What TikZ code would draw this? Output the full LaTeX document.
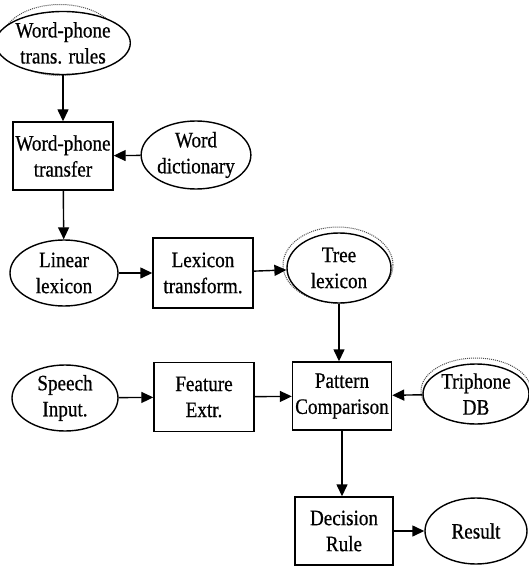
\documentclass[tikz,border=0pt]{standalone}
\usepackage{fontspec}
\setmainfont[FakeStretch=0.87,FakeBold=0.6]{Liberation Serif}
\usetikzlibrary{shapes.geometric,arrows.meta}
\begin{document}
\begin{tikzpicture}[x=1pt,y=-1pt,
  every node/.style={font=\fontsize{22}{26}\selectfont, align=center, inner sep=0pt},
  ell/.style={ellipse, draw, line width=1.4pt},
  boxnode/.style={rectangle, draw, line width=1.4pt},
  outerring/.style={ellipse, draw=black!70, densely dotted, line width=1pt},
  conn/.style={line width=1.4pt, -{Triangle[length=12pt,width=11pt]}}]
\path[use as bounding box] (0,0) rectangle (528,567);
% outer dotted rings for database ellipses
\node[outerring, minimum width=116pt, minimum height=71pt] (r1o) at (60,40) {};
\node[outerring, minimum width=110pt, minimum height=76pt] (tlo) at (338,265) {};
\node[outerring, minimum width=110pt, minimum height=66pt] (tpo) at (476,391) {};
% nodes
\node[ell, minimum width=108pt, minimum height=63pt, fill=white] (r1) at (63,43) {Word-phone\\trans. rules};
\node[boxnode, minimum width=100pt, minimum height=68pt] (wpt) at (63,156) {Word-phone\\transfer};
\node[ell, minimum width=94pt, minimum height=68pt] (wd) at (196,155) {Word\\dictionary};
\node[ell, minimum width=108pt, minimum height=66pt] (ll) at (64,273) {Linear\\lexicon};
\node[boxnode, minimum width=100pt, minimum height=70pt] (lt) at (203,273) {Lexicon\\transform.};
\node[ell, minimum width=104pt, minimum height=70pt, fill=white] (tl) at (339,268) {Tree\\lexicon};
\node[ell, minimum width=106pt, minimum height=66pt] (sp) at (65,398) {Speech\\Input.};
\node[boxnode, minimum width=100pt, minimum height=69pt] (fe) at (204,397) {Feature\\Extr.};
\node[boxnode, minimum width=99pt, minimum height=68pt] (pc) at (342,396) {Pattern\\Comparison};
\node[ell, minimum width=106pt, minimum height=60pt, fill=white] (tp) at (476,394) {Triphone\\DB};
\node[boxnode, minimum width=98pt, minimum height=68pt] (dr) at (344,531) {Decision\\Rule};
\node[ell, minimum width=102pt, minimum height=66pt] (rs) at (476,531) {Result};
% connectors
\draw[conn] (r1) -- (wpt);
\draw[conn] (wd) -- (wpt);
\draw[conn] (wpt) -- (ll);
\draw[conn] (ll) -- (lt);
\draw[conn] (lt) -- (tl);
\draw[conn] (tl.south) -- (tl.south |- pc.north);
\draw[conn] (sp) -- (fe);
\draw[conn] (fe) -- (pc);
\draw[conn] (tp) -- (pc);
\draw[conn] (pc.south) -- (pc.south |- dr.north);
\draw[conn] (dr) -- (rs);
\end{tikzpicture}
\end{document}
